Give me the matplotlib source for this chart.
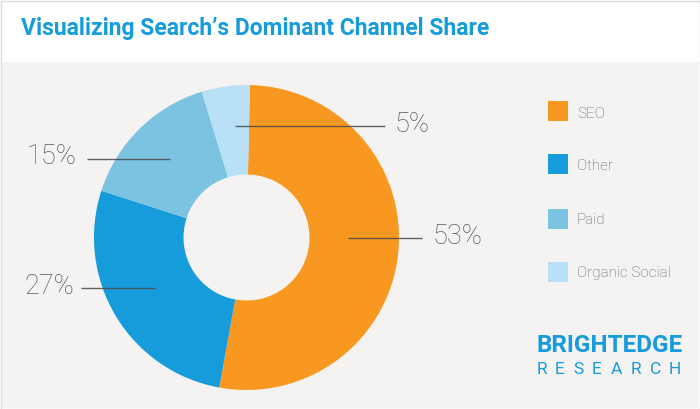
import matplotlib
matplotlib.use("Agg")
import matplotlib.pyplot as plt
from matplotlib.patches import Rectangle

# channel share, clockwise from the top
channels = ["SEO", "Other", "Paid", "Organic Social"]
shares = [52.5, 27.1, 15.3, 5.1]
colors = ["#F99820", "#169BDB", "#7BC3E0", "#B8E0F6"]
share_labels = ["53%", "27%", "15%", "5%"]

W, H = 700, 409


def Y(y):
    return H - y


fig = plt.figure(figsize=(7, 4.09), dpi=100, facecolor="white")
ax = fig.add_axes([0, 0, 1, 1])

cx, cy, r = 246.5, Y(237.5), 152.5
ax.pie(shares, colors=colors, startangle=88.7, counterclock=False, center=(cx, cy), radius=r,
       wedgeprops=dict(width=r - 63, linewidth=0, zorder=2), frame=True)
ax.set_xlim(0, W)
ax.set_ylim(0, H)
ax.set_aspect("auto")
ax.axis("off")

# background panel and thin screenshot border
ax.add_patch(Rectangle((1, 1), W - 2, H - 63, fc="#F4F3F1", ec="none", zorder=0))
ax.add_patch(Rectangle((0.5, 0.5), W - 1, H - 1, fc="none", ec="#DDDDDD", lw=1, zorder=6))

ax.text(21, Y(28), "Visualizing Search\u2019s Dominant Channel Share", fontsize=16.5,
        family="Roboto", weight="bold", color="#169BDB", va="center", ha="left")

# leader lines and labels
line_color = "#4A4A4A"
leaders = [(348, 422, 238), (81, 155, 288), (87, 170, 159), (235, 385, 126)]
label_pos = [(433, 237), (25, 287), (27, 157), (395, 125)]
for (x0, x1, y), (tx, ty), lab in zip(leaders, label_pos, share_labels):
    ax.plot([x0, x1], [Y(y), Y(y)], color=line_color, lw=1, alpha=0.85, solid_capstyle="butt", zorder=4)
    ax.text(tx, Y(ty), lab, fontsize=19.5, family="Roboto", weight="light", color="#5A5A5A",
            va="center", ha="left", zorder=5)

# legend
box_y = [111, 164, 219, 272]
text_y = [113.5, 165.5, 220.5, 273]
for name, col, by, ty in zip(channels, colors, box_y, text_y):
    ax.add_patch(Rectangle((548, Y(by) - 10), 20, 20, fc=col, ec="none", zorder=3))
    ax.text(577, Y(ty), name, fontsize=11, family="Roboto", weight="light", color="#5E5F62",
            va="center", ha="left", zorder=3)

# logo
ax.text(536, Y(345), "BRIGHTEDGE", fontsize=17.5, family="Roboto", weight="bold", color="#169BDB",
        va="center", ha="left")
for ch, x in zip("RESEARCH", [536.5, 555, 573.5, 592, 610.5, 631, 650, 669]):
    ax.text(x, Y(369), ch, fontsize=12.5, family="Roboto", color="#169BDB", va="center", ha="left")

fig.savefig("out.png", dpi=100)
